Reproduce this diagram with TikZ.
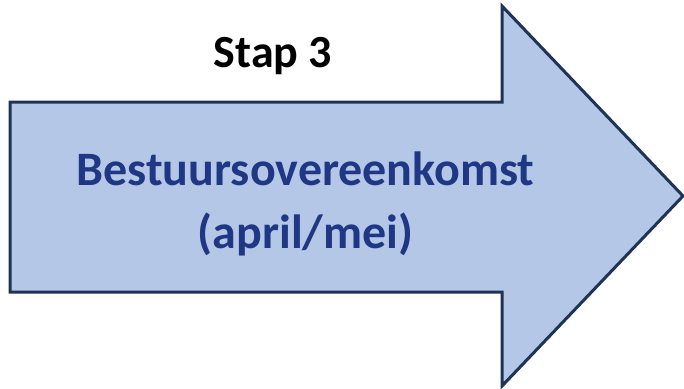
\documentclass[tikz,border=0pt]{standalone}
\usepackage{fontspec}
\setmainfont{Carlito}
\definecolor{arrowfill}{HTML}{B4C7E7}
\definecolor{arrowline}{HTML}{1F3357}
\definecolor{maintext}{HTML}{1F3784}
\begin{document}
\begin{tikzpicture}[x=1pt,y=-1pt,
  bigarrow/.style={fill=arrowfill,draw=arrowline,line width=3pt,line join=miter},
  titletext/.style={font=\fontsize{46}{55}\selectfont\bfseries,text=black,anchor=base,inner sep=0pt},
  bodytext/.style={font=\fontsize{48}{61}\selectfont\bfseries,text=maintext,anchor=base,inner sep=0pt}]
\useasboundingbox (0,0) rectangle (684,388);
\draw[bigarrow] (10,102) -- (502,102) -- (502,6) -- (683,196) -- (502,386) -- (502,292) -- (10,292) -- cycle;
\node[titletext] (title) at (273,67) {Stap 3};
\node[bodytext] (line1) at (305.5,185) {Bestuursovereenkomst};
\node[bodytext] (line2) at (305.5,248) {(april/mei)};
\end{tikzpicture}
\end{document}
